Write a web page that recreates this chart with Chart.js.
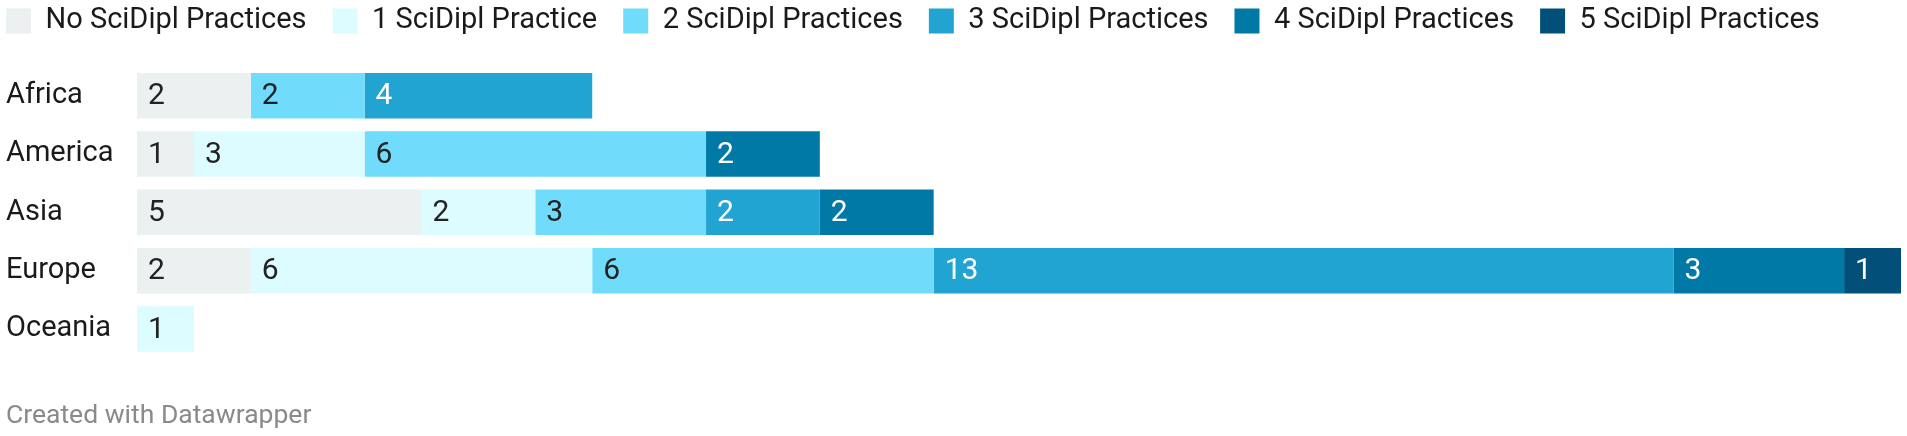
<!DOCTYPE html>
<html>
<head>
<meta charset="utf-8">
<script src="https://cdn.jsdelivr.net/npm/chart.js@4.4.1/dist/chart.umd.min.js"></script>
<style>
  body { margin: 0; background: #fff; }
</style>
</head>
<body>
<canvas id="myChart" width="1907" height="436"></canvas>
<script>
const regions = ['Africa', 'America', 'Asia', 'Europe', 'Oceania'];

const seriesNames = [
    'No SciDipl Practices',
    '1 SciDipl Practice',
    '2 SciDipl Practices',
    '3 SciDipl Practices',
    '4 SciDipl Practices',
    '5 SciDipl Practices'
];

const noPractice = [2, 1, 5, 2, 0];
const onePractice = [0, 3, 2, 6, 1];
const twoPractices = [2, 6, 3, 6, 0];
const threePractices = [4, 0, 2, 13, 0];
const fourPractices = [0, 2, 2, 3, 0];
const fivePractices = [0, 0, 0, 1, 0];

const colors = ['#ebf0f0', '#dcfcff', '#70dbfb', '#22a4d2', '#0079a6', '#02507a'];
const labelColors = ['#222', '#222', '#222', '#fff', '#fff', '#fff'];

const values = [noPractice, onePractice, twoPractices, threePractices, fourPractices, fivePractices];

// numbers inside the segments
const barLabels = {
    id: 'barLabels',
    afterDatasetsDraw(chart) {
        const ctx = chart.ctx;
        ctx.save();
        ctx.font = '30px Roboto';
        ctx.textBaseline = 'middle';
        ctx.textAlign = 'left';
        chart.data.datasets.forEach((ds, i) => {
            const meta = chart.getDatasetMeta(i);
            meta.data.forEach((bar, j) => {
                const v = ds.data[j];
                if (!v) return;
                ctx.fillStyle = labelColors[i];
                ctx.fillText(v, bar.base + 11, bar.y + 1);
            });
        });
        ctx.restore();
    }
};

// move the legend to the top-left corner like the original
const legendShift = {
    id: 'legendShift',
    afterInit(chart) {
        const lg = chart.legend;
        const draw = lg.draw;
        lg.draw = function (area) {
            const c = this.ctx;
            c.save();
            c.translate(-26, -21);
            draw.call(this, area);
            c.restore();
        };
    }
};

function chart() {
    const ctx = document.getElementById('myChart');
    new Chart(ctx, {
        type: 'bar',
        data: {
            labels: regions,
            datasets: seriesNames.map((name, i) => ({
                label: name,
                data: values[i],
                backgroundColor: colors[i],
                borderWidth: 0,
                barPercentage: 0.78,
                categoryPercentage: 1
            }))
        },
        options: {
            indexAxis: 'y',
            responsive: false,
            animation: false,
            layout: { padding: { left: 6, right: 6, top: 1.5, bottom: 0 } },
            scales: {
                x: { stacked: true, min: 0, max: 31, display: false },
                y: {
                    stacked: true,
                    grid: { display: false },
                    border: { display: false },
                    afterFit: (scale) => { scale.width = 131; },
                    ticks: {
                        crossAlign: 'far',
                        padding: 0,
                        color: '#1a1a1a',
                        font: { family: 'Roboto', size: 29 }
                    }
                }
            },
            plugins: {
                tooltip: { enabled: false },
                legend: {
                    position: 'top',
                    align: 'start',
                    labels: {
                        boxWidth: 25,
                        boxHeight: 25,
                        padding: 26,
                        color: '#1a1a1a',
                        font: { family: 'Roboto', size: 29 }
                    }
                },
                title: {
                    display: true,
                    text: 'Created with Datawrapper',
                    position: 'bottom',
                    align: 'start',
                    color: '#8a8a8a',
                    font: { family: 'Roboto', size: 26.5, weight: 'normal' },
                    padding: { top: 42, bottom: 4 }
                }
            }
        },
        plugins: [barLabels, legendShift]
    });
}

document.fonts.load('29px Roboto').then(chart, chart);
</script>
</body>
</html>
